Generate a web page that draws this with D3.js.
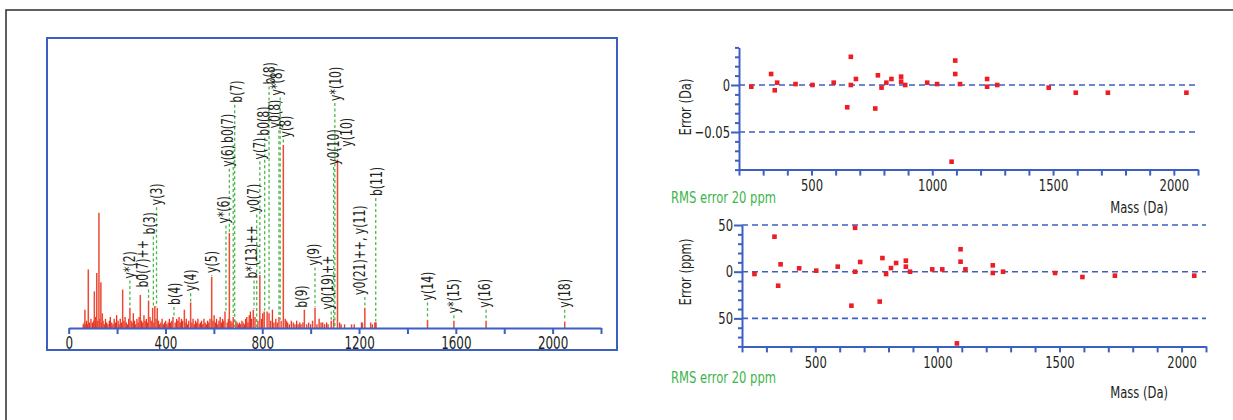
<!DOCTYPE html>
<html>
<head>
<meta charset="utf-8">
<script src="https://cdn.jsdelivr.net/npm/d3@7"></script>
<style>
body { margin: 0; background: #fff; }
svg text { font-family: "Liberation Sans Narrow", "DejaVu Sans Condensed", "Arial Narrow", sans-serif; fill: #231f20; }
</style>
</head>
<body>
<svg id="chart" width="1233" height="420"></svg>
<script>
// MS/MS spectrum: [m/z, relative intensity], tallest peak = 100
const mainPeaks = [
  [67, 10], [81, 32], [106, 20], [116, 30], [125, 63], [133, 25], [139, 8],
  [223, 21], [253, 11], [296, 18], [330, 15], [347, 11], [356, 12], [366, 11],
  [478, 10], [504, 14], [591, 28], [646, 9], [664, 52], [680, 6],
  [763, 10], [790, 29], [808, 9], [828, 8], [869, 6], [887, 100], [900, 4],
  [974, 10], [1008, 4], [1018, 11], [1035, 5], [1043, 3], [1085, 4], [1095, 5],
  [1111, 92], [1126, 2], [1169, 2], [1214, 3], [1224, 11], [1248, 3], [1265, 3],
  [1270, 3], [1483, 4.5], [1592, 4], [1725, 4], [2050, 3.5]
];

// low-level background peaks
const noisePeaks = [
  [60, 2], [64, 3], [70, 2], [74, 4], [77, 2], [86, 3], [92, 5], [98, 3], [103, 4],
  [110, 6], [113, 3], [120, 4], [128, 5], [136, 3], [142, 4], [147, 2], [152, 5],
  [157, 3], [162, 2], [168, 4], [172, 6], [178, 3], [183, 2], [188, 5], [193, 3],
  [198, 7], [204, 4], [208, 2], [213, 5], [218, 3], [228, 4], [233, 6], [238, 3],
  [243, 2], [248, 5], [258, 4], [262, 3], [267, 8], [272, 4], [277, 2], [282, 5],
  [287, 3], [291, 6], [301, 4], [306, 3], [311, 7], [316, 4], [321, 5], [326, 3],
  [336, 6], [341, 4], [352, 3], [361, 5], [371, 4], [376, 2], [381, 3], [386, 5],
  [391, 2], [396, 3], [401, 4], [406, 2], [411, 3], [416, 5], [421, 3], [426, 4],
  [431, 6], [440, 3], [446, 5], [451, 4], [456, 6], [461, 3], [466, 5], [471, 4],
  [481, 3], [486, 5], [491, 2], [496, 4], [509, 3], [514, 5], [519, 2], [524, 4],
  [529, 3], [534, 5], [539, 2], [544, 3], [549, 4], [554, 2], [559, 5], [564, 3],
  [569, 2], [574, 4], [579, 3], [584, 5], [596, 4], [601, 7], [606, 3], [611, 5],
  [616, 2], [621, 4], [626, 6], [631, 3], [636, 5], [641, 4], [655, 3], [660, 5],
  [670, 4], [675, 3], [691, 4], [696, 3], [701, 2], [706, 3], [711, 2], [716, 4],
  [721, 3], [726, 2], [731, 5], [736, 6], [741, 3], [746, 7], [751, 9], [756, 5],
  [770, 6], [782, 4], [797, 5], [802, 8], [820, 9], [835, 4], [842, 10], [848, 3],
  [856, 5], [862, 3], [878, 4], [895, 5], [905, 3], [912, 2], [920, 4], [928, 3],
  [935, 2], [942, 4], [948, 2], [955, 3], [960, 2], [968, 3], [984, 2], [992, 3],
  [1000, 2], [1026, 2], [1050, 3], [1058, 2], [1066, 3], [1072, 2], [1120, 3],
  [1140, 2], [1180, 2], [1210, 3], [1255, 2], [1268, 3]
];

// fragment annotations: [label, m/z of line, label level (intensity units), m/z of text]
const fragLabels = [
  ["y*(2)", 253, 26, 253], ["b0(7)++", 330, 21, 306], ["b(3)", 350, 50, 336],
  ["y(3)", 363, 66, 364], ["b(4)", 435, 11.5, 439], ["y(4)", 504, 19, 504],
  ["y(5)", 591, 29, 591], ["y*(6)", 650, 56, 639], ["y(6)", 664, 87, 657],
  ["b0(7)", 680, 100, 658], ["b(7)", 686, 122, 694], ["b*(13)++", 766, 26, 756],
  ["y0(7)", 777, 62, 763], ["y(7)", 790, 91, 788], ["b0(8)", 810, 104, 804],
  ["b(8)", 828, 132, 832], ["y0(8)", 869, 108, 852], ["y*(8)", 874, 126, 861],
  ["y(8)", 887, 103, 898], ["b(9)", 974, 10, 963], ["y(9)", 1018, 33, 1011],
  ["y0(19)++", 1085, 9, 1071], ["y0(10)", 1095, 88, 1093], ["y*(10)", 1100, 123, 1105],
  ["y(10)", 1111, 98, 1149], ["y0(21)++, y(11)", 1224, 17, 1201], ["b(11)", 1269, 71, 1273],
  ["y(14)", 1483, 14, 1483], ["y*(15)", 1592, 7, 1592], ["y(16)", 1725, 10, 1717],
  ["y(18)", 2050, 10, 2048]
];
const specTicks = [0, 200, 400, 600, 800, 1000, 1200, 1400, 1600, 1800, 2000, 2200];

// matched fragment masses and their errors
const fragMass = [251, 333, 348, 358, 434, 504, 592, 648, 663, 663, 684, 764, 775, 790, 810, 831,
  871, 871, 888, 979, 1020, 1080, 1095, 1095, 1115, 1227, 1227, 1269, 1482, 1594, 1727, 2052];
const errDa = [-0.0018, 0.0117, -0.0056, 0.0025, 0.001, 0, 0.0025, -0.0237, 0.030, 0, 0.0064,
  -0.025, 0.0103, -0.0028, 0.0025, 0.0064, 0.0089, 0.0036, 0, 0.0025, 0.001, -0.0816, 0.026,
  0.0117, 0.001, 0.0064, -0.0018, 0, -0.0028, -0.0082, -0.0082, -0.0082];
const errPpm = [-2.5, 37.5, -15, 7.9, 3.6, 1.1, 5.4, -36.4, 47, 0, 10.4, -32, 14.6, -2.5, 3.9, 9.3,
  11.8, 5.4, 0, 2.5, 2.5, -76.8, 24, 10.7, 2.5, 6.8, -1.4, 0, -1.4, -5.7, -4.3, -4.3];
const daGuides = [0, -0.05];
const ppmGuides = [50, 0, -50];
const massTicks = d3.range(200, 2101, 100);
const massLabels = [500, 1000, 1500, 2000];
const rmsText = "RMS error 20 ppm";

const blue = "#3c5fc2";
const narrow = "scale(0.78,1)"; // condensed look for the wide fallback font
const svg = d3.select("#chart");

// outer frame
svg.append("rect").attr("x", 6).attr("y", 10).attr("width", 1240).attr("height", 430)
  .attr("fill", "none").attr("stroke", "#2b2b2b").attr("stroke-width", 1.5);

// ---------- spectrum ----------
svg.append("rect").attr("x", 47).attr("y", 38).attr("width", 570).attr("height", 312)
  .attr("fill", "none").attr("stroke", blue).attr("stroke-width", 2);

const xSpec = d3.scaleLinear().domain([0, 2200]).range([68.7, 601]);
const ySpec = d3.scaleLinear().domain([0, 100]).range([328, 145]);

const allPeaks = noisePeaks.concat(mainPeaks);
function peakTop(mz) {
  let best = 0;
  allPeaks.forEach(p => { if (Math.abs(p[0] - mz) <= 4 && p[1] > best) best = p[1]; });
  return best;
}

svg.append("g").selectAll("line").data(noisePeaks).join("line")
  .attr("x1", d => xSpec(d[0])).attr("x2", d => xSpec(d[0]))
  .attr("y1", ySpec(0)).attr("y2", d => ySpec(d[1]))
  .attr("stroke", "#e8321e").attr("stroke-width", 1.3);

svg.append("g").selectAll("line").data(mainPeaks).join("line")
  .attr("x1", d => xSpec(d[0])).attr("x2", d => xSpec(d[0]))
  .attr("y1", ySpec(0)).attr("y2", d => ySpec(d[1]))
  .attr("stroke", "#ec4a33").attr("stroke-width", 1.5);

const lab = svg.append("g");
lab.selectAll("line").data(fragLabels).join("line")
  .attr("x1", d => xSpec(d[1])).attr("x2", d => xSpec(d[1]))
  .attr("y1", d => ySpec(d[2]))
  .attr("y2", d => Math.max(ySpec(d[2]), ySpec(peakTop(d[1])) - 1))
  .attr("stroke", "#4cb84a").attr("stroke-width", 1.3).attr("stroke-dasharray", "3,2.5");
lab.selectAll("text").data(fragLabels).join("text")
  .attr("transform", d => `translate(${xSpec(d[3])},${ySpec(d[2]) - 2}) rotate(-90) ${narrow}`)
  .attr("dy", "0.35em").attr("font-size", 15.5)
  .text(d => d[0]);

const specAxis = svg.append("g").attr("transform", `translate(0,${ySpec(0)})`)
  .call(d3.axisBottom(xSpec).tickValues(specTicks).tickSize(6).tickSizeOuter(0)
    .tickFormat(d => d % 400 === 0 && d <= 2000 ? d : ""));
specAxis.selectAll("path, line").attr("stroke", blue).attr("stroke-width", 2);
specAxis.selectAll("text").attr("font-size", 17).style("font-family", null)
  .attr("fill", "#231f20").attr("transform", narrow);

// ---------- error plots ----------
function errorPlot(cfg) {
  const g = svg.append("g");
  const x = d3.scaleLinear().domain([200, 2100]).range(cfg.xRange);
  const y = d3.scaleLinear().domain(cfg.yDomain).range(cfg.yRange);

  g.selectAll("line.guide").data(cfg.guides).join("line").attr("class", "guide")
    .attr("x1", x.range()[0]).attr("x2", x.range()[1])
    .attr("y1", d => y(d)).attr("y2", d => y(d))
    .attr("stroke", blue).attr("stroke-width", 1.6).attr("stroke-dasharray", "6,4");

  const ya = g.append("g").attr("transform", `translate(${x.range()[0]},0)`)
    .call(d3.axisLeft(y).tickValues(cfg.yTicks).tickSizeOuter(0)
      .tickFormat(d => cfg.yLabel(d)));
  ya.selectAll(".tick line").attr("x2", d => cfg.yLabel(d) !== "" ? -8 : -4);
  ya.selectAll(".tick text").attr("x", 0).attr("transform", `translate(-9,0) ${narrow}`);

  const xa = g.append("g").attr("transform", `translate(0,${y.range()[0]})`)
    .call(d3.axisBottom(x).tickValues(massTicks).tickSize(6).tickSizeOuter(0).tickPadding(4)
      .tickFormat(d => massLabels.includes(d) ? d : ""));
  xa.selectAll(".tick text").attr("transform", narrow);
  [ya, xa].forEach(a => {
    a.selectAll("path, line").attr("stroke", blue).attr("stroke-width", 2);
    a.selectAll("text").attr("font-size", 16.5).style("font-family", null).attr("fill", "#231f20");
  });

  g.selectAll("rect.pt").data(fragMass).join("rect").attr("class", "pt")
    .attr("x", d => x(d) - 2.3).attr("y", (d, i) => y(cfg.values[i]) - 2.3)
    .attr("width", 4.6).attr("height", 4.6).attr("fill", "#ee1c24");

  g.append("text").attr("transform", `translate(685,${cfg.titleY}) rotate(-90) ${narrow}`)
    .attr("text-anchor", "middle").attr("dy", "0.35em").attr("font-size", 16.5).text(cfg.title);
  g.append("text").attr("transform", `translate(671,${cfg.rmsY}) ${narrow}`)
    .attr("font-size", 16.5).style("fill", "#3cb54a").text(rmsText);
  g.append("text").attr("transform", `translate(1168,${cfg.massY}) ${narrow}`)
    .attr("text-anchor", "end").attr("font-size", 16.5).text("Mass (Da)");
}

errorPlot({
  xRange: [739, 1198], yDomain: [-0.09, 0.04], yRange: [169.6, 47.4],
  yTicks: d3.range(-9, 5).map(v => v / 100), guides: daGuides, values: errDa,
  yLabel: d => Math.round(d * 100) === 0 ? "0" : Math.round(d * 100) === -5 ? "\u22120.05" : "",
  title: "Error (Da)", titleY: 107, rmsY: 203, massY: 213
});
errorPlot({
  xRange: [742, 1206], yDomain: [-80, 50], yRange: [346.4, 225],
  yTicks: d3.range(-80, 51, 10), guides: ppmGuides, values: errPpm,
  yLabel: d => d % 50 === 0 ? String(Math.abs(d)) : "",
  title: "Error (ppm)", titleY: 272, rmsY: 383, massY: 398
});
</script>
</body>
</html>
